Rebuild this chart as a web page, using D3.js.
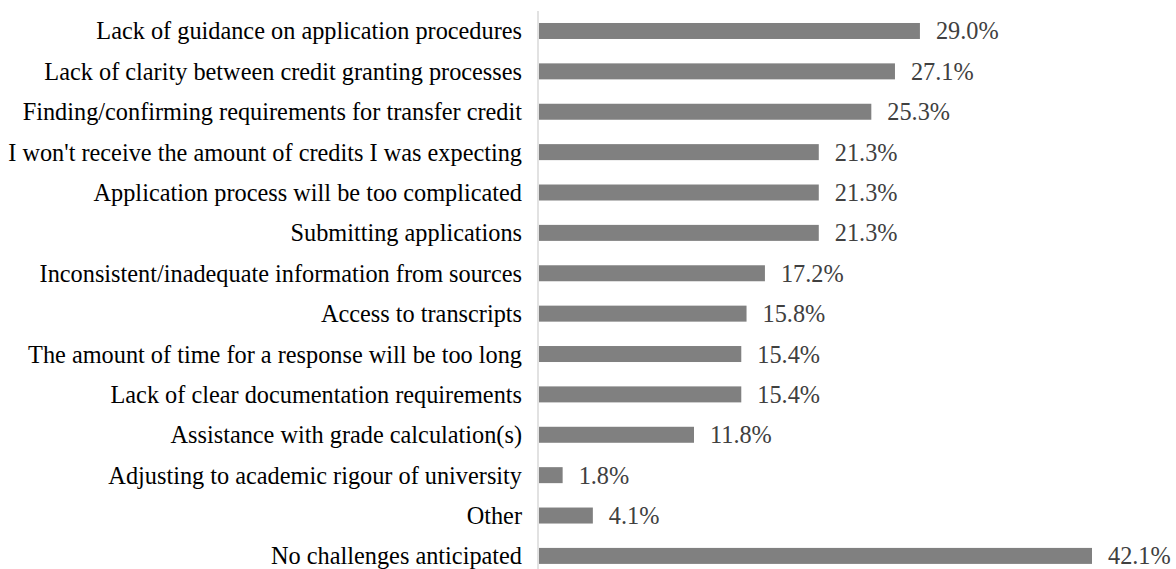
<!DOCTYPE html>
<html><head><meta charset="utf-8">
<script src="https://cdn.jsdelivr.net/npm/d3@7"></script>
<style>body{margin:0;background:#fff}svg{display:block}text{font-family:"Liberation Serif","Times New Roman",serif}</style>
</head><body><svg id="c" width="1176" height="569"></svg>
<script>
const categories = ["Lack of guidance on application procedures","Lack of clarity between credit granting processes","Finding/confirming requirements for transfer credit","I won't receive the amount of credits I was expecting","Application process will be too complicated","Submitting applications","Inconsistent/inadequate information from sources","Access to transcripts","The amount of time for a response will be too long","Lack of clear documentation requirements","Assistance with grade calculation(s)","Adjusting to academic rigour of university","Other","No challenges anticipated"];
const values = [29.0,27.1,25.3,21.3,21.3,21.3,17.2,15.8,15.4,15.4,11.8,1.8,4.1,42.1];
const valueLabels = ["29.0%","27.1%","25.3%","21.3%","21.3%","21.3%","17.2%","15.8%","15.4%","15.4%","11.8%","1.8%","4.1%","42.1%"];

const svg = d3.select("#c");
const x0 = 539;
const x = d3.scaleLinear().domain([0, 42.1]).range([x0, 1092]);
const y = d3.scaleBand().domain(categories).range([10.8, 576.1]).paddingInner(0.6).paddingOuter(0.3);

svg.append("line").attr("x1",538).attr("x2",538).attr("y1",11).attr("y2",569).attr("stroke","#d9d9d9").attr("stroke-width",1.5);

svg.selectAll("rect.bar").data(values).join("rect").attr("class","bar")
  .attr("x", x(0)).attr("y",(d,i)=>y(categories[i]) + y.bandwidth()/2 - 8)
  .attr("width", d=>x(d)-x(0)).attr("height",16).attr("fill","#808080");

svg.selectAll("text.val").data(values).join("text").attr("class","val")
  .attr("x", d=>x(d)+16).attr("y",(d,i)=>y(categories[i]) + y.bandwidth()/2)
  .attr("dy","0.35em").attr("font-size",24.3).attr("fill","#404040").text((d,i)=>valueLabels[i]);

svg.selectAll("text.cat").data(categories).join("text").attr("class","cat")
  .attr("x", 522).attr("y", d=>y(d)+y.bandwidth()/2).attr("dy","0.35em")
  .attr("text-anchor","end").attr("font-size",24.3).attr("fill","#000").text(d=>d);
</script></body></html>
